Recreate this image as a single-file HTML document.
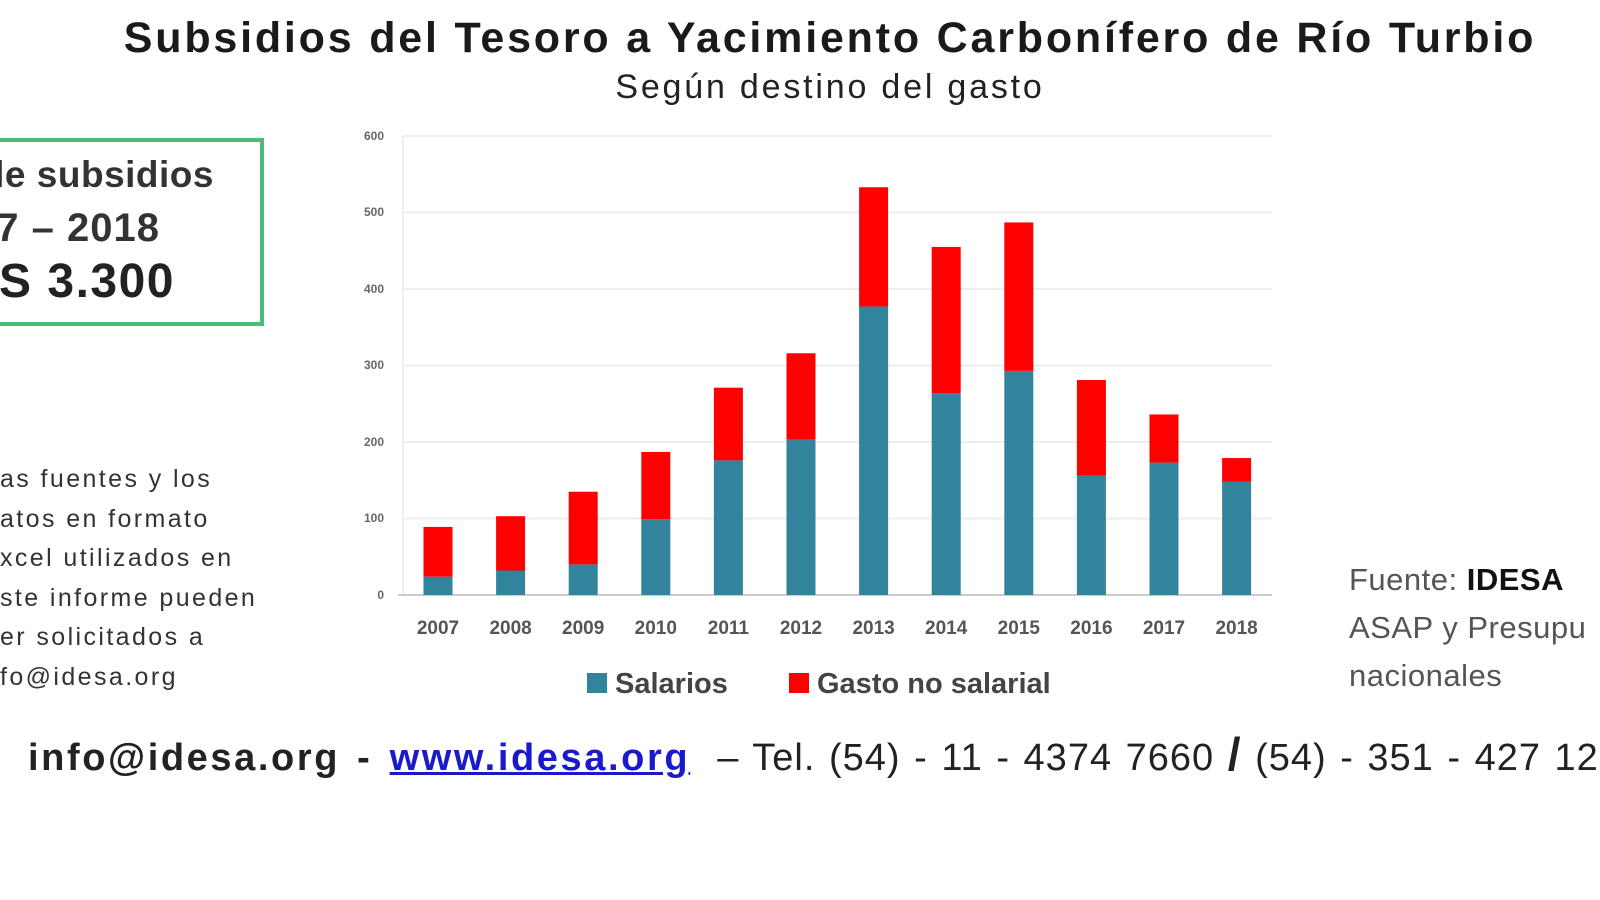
<!DOCTYPE html>
<html><head><meta charset="utf-8"><style>
body{margin:0;width:1600px;height:900px;background:#fff;position:relative;overflow:hidden;font-family:"Liberation Sans",sans-serif;color:#222}
.a{position:absolute;white-space:nowrap}
</style></head><body>
<div class="a" style="left:0;width:1660px;text-align:center;top:14px;font-size:43px;letter-spacing:2.8px;font-weight:bold;color:#1a1a1a">Subsidios del Tesoro a Yacimiento Carbonífero de Río Turbio</div>
<div class="a" style="left:0;width:1660px;text-align:center;top:68px;font-size:34px;letter-spacing:2.8px;color:#222">Según destino del gasto</div>
<div class="a" style="left:-10px;top:138px;width:266px;height:180px;border:4px solid #4cbb78"></div>
<div class="a" style="right:1386px;top:154px;font-size:37px;font-weight:bold;color:#333;letter-spacing:0.5px">le subsidios</div>
<div class="a" style="right:1440px;top:206px;font-size:40px;font-weight:bold;color:#333;letter-spacing:1px">7 – 2018</div>
<div class="a" style="right:1425px;top:254px;font-size:48px;font-weight:bold;color:#222;letter-spacing:1.5px">S 3.300</div>
<div class="a" style="left:0;top:460px;font-size:25px;letter-spacing:2.4px;line-height:39.5px;color:#333">as fuentes y los<br>atos en formato<br>xcel utilizados en<br>ste informe pueden<br>er solicitados a<br>fo@idesa.org</div>
<svg class="a" style="left:0;top:0" width="1600" height="900">
<g stroke="#eee" stroke-width="2">
<line x1="403" x2="1272" y1="136" y2="136"/><line x1="403" x2="1272" y1="212.5" y2="212.5"/><line x1="403" x2="1272" y1="289" y2="289"/><line x1="403" x2="1272" y1="365.5" y2="365.5"/><line x1="403" x2="1272" y1="442" y2="442"/><line x1="403" x2="1272" y1="518.5" y2="518.5"/>
<line x1="403" x2="403" y1="136" y2="595"/></g>
<line x1="398" x2="1272" y1="595" y2="595" stroke="#ccc" stroke-width="2"/>
<g font-size="12" font-weight="bold" fill="#666" text-anchor="end">
<text x="384" y="140">600</text><text x="384" y="216">500</text><text x="384" y="293">400</text><text x="384" y="369">300</text><text x="384" y="446">200</text><text x="384" y="522">100</text><text x="384" y="599">0</text></g>
<g id="bars"></g>
<g font-size="19" font-weight="bold" fill="#555" text-anchor="middle" id="lbl"></g>
<rect x="587" y="673" width="20" height="20" fill="#31849b"/>
<rect x="789" y="673" width="20" height="20" fill="#f00"/>
<text x="615" y="693" font-size="29" font-weight="bold" fill="#444">Salarios</text>
<text x="817" y="693" font-size="29" font-weight="bold" fill="#444">Gasto no salarial</text>
</svg>
<div class="a" style="left:1349px;top:556px;font-size:31px;letter-spacing:0.5px;color:#555;line-height:48px">Fuente: <b style="color:#111">IDESA</b><br>ASAP y Presupu<br>nacionales</div>
<div class="a" style="left:28px;top:727px;font-size:38px;color:#222"><b style="letter-spacing:2.6px;word-spacing:4px">info@idesa.org - <span style="color:#1a1acc;text-decoration:underline">www.idesa.org</span></b><span style="letter-spacing:1px;word-spacing:2px"> &nbsp;– Tel. (54) - 11 - 4374 7660 <b style="font-size:46px">/</b> (54) - 351 - 427 127</span></div>
<script>
var s=[24,32,40,99,176,203,377,264,293,156,173,148],t=[89,103,135,187,271,316,533,455,487,281,236,179];
var g=document.getElementById('bars'),l=document.getElementById('lbl'),h='',k='';
for(var i=0;i<12;i++){var c=438+72.6*i,x=c-14.5;
var ys=595-s[i]*0.765,yt=595-t[i]*0.765;
h+='<rect x="'+x+'" y="'+ys+'" width="29" height="'+(595-ys)+'" fill="#31849b"/>';
h+='<rect x="'+x+'" y="'+yt+'" width="29" height="'+(ys-yt)+'" fill="#f00"/>';
k+='<text x="'+c+'" y="634">'+(2007+i)+'</text>';}
g.innerHTML=h;l.innerHTML=k;
</script>
</body></html>
